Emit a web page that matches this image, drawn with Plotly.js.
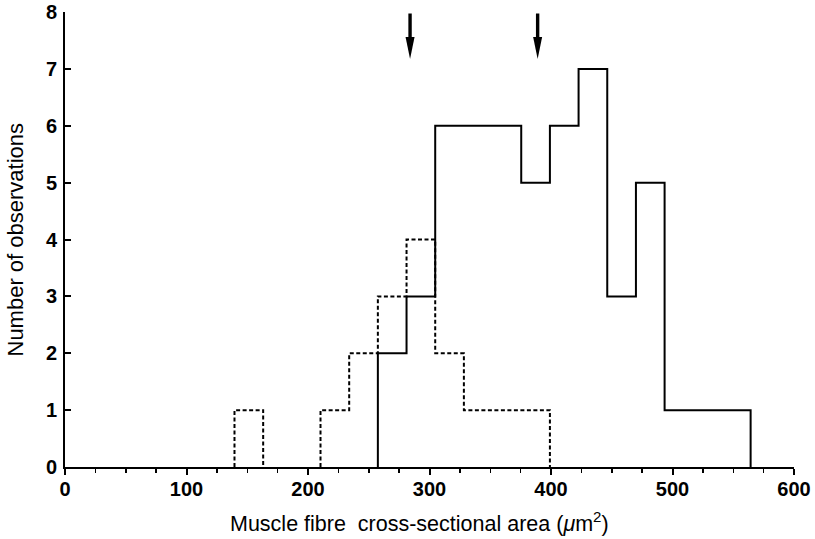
<!DOCTYPE html>
<html>
<head>
<meta charset="utf-8">
<script src="https://cdn.plot.ly/plotly-3.0.1.min.js"></script>
<style>html,body{margin:0;padding:0;background:#fff;}#chart{width:815px;height:539px;}</style>
</head>
<body>
<div id="chart"></div>
<script>
// Bin edges (µm²) shared by both histograms
const binEdges = [139.5, 163.1, 186.7, 210.3, 233.9, 257.5, 281.1, 304.7, 328.3, 351.9, 375.5, 399.1, 422.7, 446.3, 469.9, 493.5, 517.1, 540.7, 564.3];
// Counts per bin
const dashedCounts = [1, 0, 0, 1, 2, 3, 4, 2, 1, 1, 1, 0, 0, 0, 0, 0, 0, 0];
const solidCounts  = [0, 0, 0, 0, 0, 2, 3, 6, 6, 6, 5, 6, 7, 3, 5, 1, 1, 1];
// Arrow positions (means)
const arrowX = [284, 389];
const xTicks = [0, 100, 200, 300, 400, 500, 600];
const yTicks = [0, 1, 2, 3, 4, 5, 6, 7, 8];
const xTitle = 'Muscle fibre  cross-sectional area (<i>μ</i>m<sup>2</sup>)';
const yTitle = 'Number of observations';

function stepOutline(edges, counts) {
  const xs = [], ys = [];
  let prev = 0;
  for (let i = 0; i < counts.length; i++) {
    const c = counts[i];
    if (c > 0) {
      if (prev === 0) { xs.push(edges[i]); ys.push(0); }
      xs.push(edges[i], edges[i + 1]);
      ys.push(c, c);
    } else if (prev > 0) {
      xs.push(edges[i], null); ys.push(0, null);
    }
    prev = c;
  }
  if (prev > 0) { xs.push(edges[counts.length]); ys.push(0); }
  return {x: xs, y: ys};
}

const d = stepOutline(binEdges, dashedCounts);
const s = stepOutline(binEdges, solidCounts);

const traces = [
  {x: d.x, y: d.y, type: 'scatter', mode: 'lines', connectgaps: false, line: {color: '#000', width: 2, dash: '4px,2.5px'}, hoverinfo: 'skip'},
  {x: s.x, y: s.y, type: 'scatter', mode: 'lines', connectgaps: false, line: {color: '#000', width: 2}, hoverinfo: 'skip'}
];

const shapes = [];
arrowX.forEach(ax => {
  shapes.push({type: 'path', xref: 'x', yref: 'y', xsizemode: 'pixel', ysizemode: 'pixel',
    xanchor: ax, yanchor: 8, path: 'M-1.7,-1.5 L1.7,-1.5 L1.7,-27 L-1.7,-27 Z',
    fillcolor: '#000', line: {width: 0}});
  shapes.push({type: 'path', xref: 'x', yref: 'y', xsizemode: 'pixel', ysizemode: 'pixel',
    xanchor: ax, yanchor: 8, path: 'M-4.5,-25 L4.5,-25 L0,-47 Z',
    fillcolor: '#000', line: {width: 0}});
});

const fam = 'Liberation Sans, Arial, Helvetica, sans-serif';
const tickFont = {family: fam, size: 20, color: '#000', weight: 'bold'};

const layout = {
  width: 815, height: 539,
  margin: {l: 65, r: 21, t: 12, b: 72},
  paper_bgcolor: '#fff', plot_bgcolor: '#fff',
  showlegend: false,
  xaxis: {
    range: [0, 600], tickvals: xTicks, ticktext: xTicks.map(String),
    ticks: 'outside', ticklen: 6, tickwidth: 2, tickcolor: '#000',
    minor: {dtick: 25, ticks: 'outside', ticklen: 4, tickwidth: 1.5, tickcolor: '#000', showgrid: false},
    showline: true, linewidth: 2, linecolor: '#000', showgrid: false, zeroline: false,
    tickfont: tickFont, ticklabelstandoff: -3, fixedrange: true
  },
  yaxis: {
    range: [0, 8], tickvals: yTicks, ticktext: yTicks.map(String),
    ticks: 'inside', ticklen: 6, tickwidth: 2, tickcolor: '#000',
    showline: true, linewidth: 2, linecolor: '#000', showgrid: false, zeroline: false,
    tickfont: tickFont, ticklabelstandoff: 2, fixedrange: true
  },
  annotations: [
    {text: xTitle, xref: 'paper', yref: 'paper', x: 0.4856, y: 0, xanchor: 'center', yanchor: 'middle',
     yshift: -55, showarrow: false, font: {family: fam, size: 21.5, color: '#000'}},
    {text: yTitle, xref: 'paper', yref: 'paper', x: 0, y: 0.5, xanchor: 'center', yanchor: 'middle',
     xshift: -50, textangle: -90, showarrow: false, font: {family: fam, size: 22, color: '#000'}}
  ],
  shapes: shapes
};

Plotly.newPlot('chart', traces, layout, {displayModeBar: false, staticPlot: true});
</script>
</body>
</html>
